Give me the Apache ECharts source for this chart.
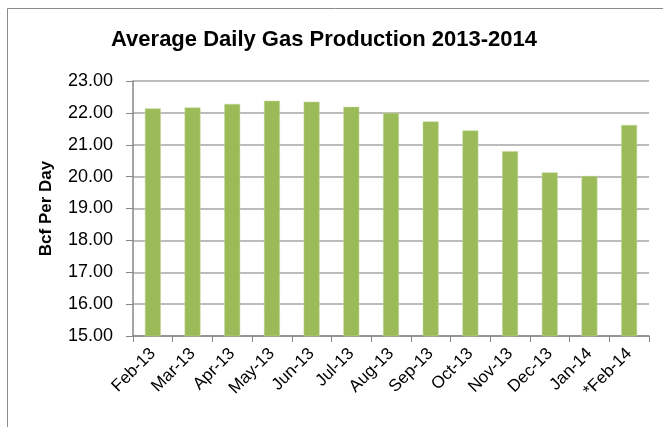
<!DOCTYPE html>
<html>
<head>
<meta charset="utf-8">
<script src="https://cdn.jsdelivr.net/npm/echarts@6/dist/echarts.min.js"></script>
<style>
  html, body { margin: 0; padding: 0; background: #fff; }
  #chart { width: 663px; height: 427px; }
</style>
</head>
<body>
<div id="chart"></div>
<script>
// data
const months = ['Feb-13', 'Mar-13', 'Apr-13', 'May-13', 'Jun-13', 'Jul-13', 'Aug-13',
  'Sep-13', 'Oct-13', 'Nov-13', 'Dec-13', 'Jan-14', '*Feb-14']
const gasBcf = [22.14, 22.17, 22.28, 22.38, 22.35, 22.19, 22.00,
  21.73, 21.45, 20.80, 20.13, 20.02, 21.62]
const yMin = 15
const yMax = 23
const yStep = 1

const chart = echarts.init(document.getElementById('chart'))
const font = 'Liberation Sans, Arial, sans-serif'

const option = {
  animation: false,
  title: {
    text: 'Average Daily Gas Production 2013-2014',
    left: 319,
    top: 24,
    textAlign: 'center',
    textStyle: { fontFamily: font, fontSize: 22, fontWeight: 'bold', color: '#000' }
  },
  graphic: [{
    type: 'rect',
    shape: { x: 7.5, y: 8.5, width: 700, height: 500 },
    style: { fill: 'none', stroke: '#8c8c8c', lineWidth: 1 },
    silent: true
  }],
  grid: { left: 133, right: 14, top: 81, bottom: 91 },
  xAxis: {
    type: 'category',
    data: months,
    axisLine: { lineStyle: { color: '#868686', width: 1.5 } },
    axisTick: { show: true, length: 6, lineStyle: { color: '#868686' } },
    axisLabel: {
      interval: 0, rotate: 45, fontFamily: font, fontSize: 17, color: '#000', margin: 15
    }
  },
  yAxis: {
    type: 'value',
    min: yMin,
    max: yMax,
    interval: yStep,
    name: 'Bcf Per Day',
    nameLocation: 'middle',
    nameGap: 78,
    nameTextStyle: { fontFamily: font, fontSize: 17, fontWeight: 'bold', color: '#000' },
    axisLine: { show: true, lineStyle: { color: '#868686', width: 1.5 } },
    axisTick: { show: true, length: 7, lineStyle: { color: '#868686' } },
    axisLabel: {
      formatter: v => v.toFixed(2), fontFamily: font, fontSize: 18, color: '#000', margin: 20
    },
    splitLine: { lineStyle: { color: '#a6a6a6', width: 1.5 } }
  },
  series: [{
    type: 'bar',
    data: gasBcf,
    barWidth: '40%',
    itemStyle: { color: '#9BBB59', borderColor: '#c4d79b', borderWidth: 0.5 }
  }]
}

chart.setOption(option)
</script>
</body>
</html>
